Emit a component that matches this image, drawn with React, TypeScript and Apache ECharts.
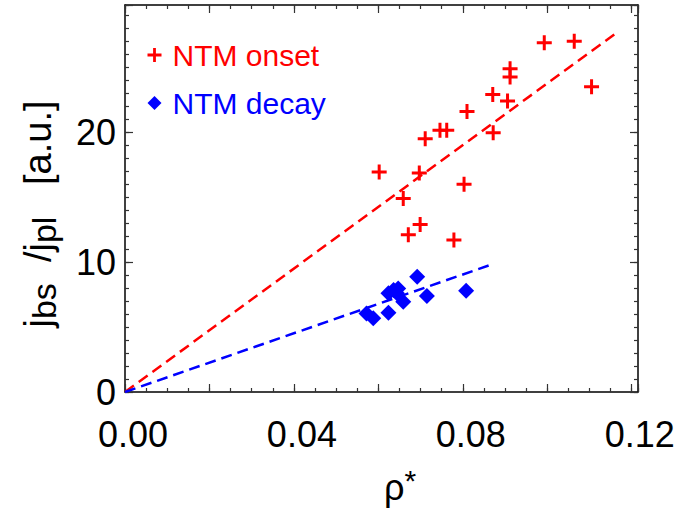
import React, { useEffect, useRef } from "react";
import * as echarts from "echarts";

const onsetX = [0.0993, 0.1064, 0.0912, 0.0912, 0.1105, 0.0871, 0.0906, 0.081, 0.0746, 0.0762, 0.0872, 0.0711, 0.0602, 0.0697, 0.0803, 0.0659, 0.0699, 0.0671, 0.0779];
const onsetY = [26.9, 27.0, 24.9, 24.25, 23.5, 22.9, 22.4, 21.6, 20.15, 20.15, 19.97, 19.5, 16.95, 16.87, 16.0, 14.9, 12.9, 12.1, 11.7];
const decayX = [0.0692, 0.0808, 0.0715, 0.0636, 0.0647, 0.0624, 0.0644, 0.0659, 0.0624, 0.0572, 0.0588];
const decayY = [8.87, 7.8, 7.4, 7.85, 7.97, 7.6, 7.6, 6.95, 6.1, 6.05, 5.67];
const fitOnsetX = [0, 0.117];
const fitOnsetY = [0, 27.8];
const fitDecayX = [0, 0.0871];
const fitDecayY = [0, 9.85];
const seriesNames = ["NTM onset", "NTM decay"];
const xTickLabels = ["0.00", "0.04", "0.08", "0.12"];

const FONT = "Liberation Sans, Arial, Helvetica, sans-serif";
const RED = "#ff0000";
const BLUE = "#0000ff";
const PLUS = "path://M6,0H9V6H15V9H9V15H6V9H0V6H6Z";

const XMAX = 0.1215;
const YMAX = 29.8;
const GRID = { left: 125, top: 5, width: 513, height: 387 };

function zip(xs: number[], ys: number[]) {
  return xs.map((x, i) => [x, ys[i]]);
}

// Layer 1: frame and tick marks only
function frameOption() {
  const mk = (dim: "x" | "y", pos: string, interval: number, len: number, line: boolean) => ({
    type: "value",
    position: pos,
    min: 0,
    max: dim === "x" ? XMAX : YMAX,
    interval,
    axisLine: line
      ? { show: true, onZero: false, lineStyle: { color: "#000", width: 1.5 } }
      : { show: false, onZero: false },
    axisTick: { show: true, inside: true, length: len, lineStyle: { color: "#333", width: 1.2 } },
    axisLabel: { show: false },
    splitLine: { show: false },
  });
  return {
    animation: false,
    grid: GRID,
    xAxis: [
      mk("x", "bottom", 0.02, 8, true),
      mk("x", "bottom", 0.005, 4, false),
      mk("x", "top", 0.02, 8, true),
      mk("x", "top", 0.005, 4, false),
    ],
    yAxis: [
      mk("y", "left", 10, 8, true),
      mk("y", "left", 1, 4, false),
      mk("y", "right", 10, 8, true),
      mk("y", "right", 1, 4, false),
    ],
  };
}

// Layer 2: labels, data, legend, titles
function contentOption() {
  return {
    animation: false,
    grid: GRID,
    xAxis: {
      type: "value",
      min: 0,
      max: XMAX,
      interval: 0.04,
      axisLine: { show: false, onZero: false },
      axisTick: { show: false },
      splitLine: { show: false },
      axisLabel: {
        show: true,
        fontSize: 36,
        fontFamily: FONT,
        color: "#000",
        margin: 24,
        padding: [0, 0, 0, 16],
        formatter: (v: number) => {
          const k = Math.round(v / 0.04);
          if (Math.abs(v / 0.04 - k) < 1e-6 && k < xTickLabels.length) return xTickLabels[k];
          return "";
        },
      },
    },
    yAxis: {
      type: "value",
      min: 0,
      max: YMAX,
      interval: 10,
      axisLine: { show: false, onZero: false },
      axisTick: { show: false },
      splitLine: { show: false },
      axisLabel: {
        show: true,
        fontSize: 36,
        fontFamily: FONT,
        color: "#000",
        margin: 9,
        padding: [0, 0, 12, 0],
        formatter: (v: number) => (Math.abs(v - Math.round(v)) < 1e-6 ? String(Math.round(v)) : ""),
      },
    },
    legend: {
      orient: "vertical",
      left: 142.5,
      top: 33,
      itemWidth: 14,
      itemHeight: 14,
      itemGap: 14,
      selectedMode: false,
      data: [
        { name: seriesNames[0], icon: PLUS, itemStyle: { color: RED }, textStyle: { color: RED } },
        { name: seriesNames[1], icon: "diamond", itemStyle: { color: BLUE }, textStyle: { color: BLUE } },
      ],
      textStyle: { fontSize: 30, fontFamily: FONT, lineHeight: 34, padding: [0, 0, 0, 6] },
    },
    series: [
      {
        name: "fit onset",
        type: "line",
        data: zip(fitOnsetX, fitOnsetY),
        symbol: "none",
        lineStyle: { color: RED, width: 2.5, type: [11, 6] },
      },
      {
        name: "fit decay",
        type: "line",
        data: zip(fitDecayX, fitDecayY),
        symbol: "none",
        lineStyle: { color: BLUE, width: 2.5, type: [11, 6] },
      },
      {
        name: seriesNames[0],
        type: "scatter",
        data: zip(onsetX, onsetY),
        symbol: PLUS,
        symbolSize: 15,
        itemStyle: { color: RED, opacity: 1 },
      },
      {
        name: seriesNames[1],
        type: "scatter",
        data: zip(decayX, decayY),
        symbol: "diamond",
        symbolSize: 16,
        itemStyle: { color: BLUE, opacity: 1 },
      },
    ],
    graphic: [
      {
        type: "text",
        x: 38,
        y: 214,
        rotation: Math.PI / 2,
        style: {
          text: "{m|j}{s|bs}{m|  /j}{s|pl}{m|   [a.u.]}",
          align: "center",
          verticalAlign: "middle",
          fill: "#000",
          rich: {
            m: { fontSize: 38, fontFamily: FONT, lineHeight: 46, fill: "#000" },
            s: { fontSize: 34, fontFamily: FONT, lineHeight: 32, verticalAlign: "bottom", fill: "#000" },
          },
        },
      },
      {
        type: "text",
        x: 400,
        y: 487,
        style: {
          text: "{m|ρ}{p|*}",
          align: "center",
          verticalAlign: "middle",
          fill: "#000",
          rich: {
            m: { fontSize: 36, fontFamily: FONT, lineHeight: 44, fill: "#000" },
            p: { fontSize: 30, fontFamily: FONT, lineHeight: 40, verticalAlign: "top", fill: "#000" },
          },
        },
      },
    ],
  };
}

export default function App() {
  const frameRef = useRef<HTMLDivElement>(null);
  const mainRef = useRef<HTMLDivElement>(null);
  useEffect(() => {
    if (!frameRef.current || !mainRef.current) return;
    const frame = echarts.init(frameRef.current, undefined, { renderer: "svg" });
    frame.setOption(frameOption() as any);
    const main = echarts.init(mainRef.current, undefined, { renderer: "svg" });
    main.setOption(contentOption() as any);
    return () => {
      main.dispose();
      frame.dispose();
    };
  }, []);
  const box: React.CSSProperties = { position: "absolute", left: 0, top: 0, width: 679, height: 514 };
  return (
    <div style={{ ...box, background: "#fff" }}>
      <div ref={frameRef} style={{ ...box }} />
      <div ref={mainRef} style={{ ...box }} />
    </div>
  );
}
